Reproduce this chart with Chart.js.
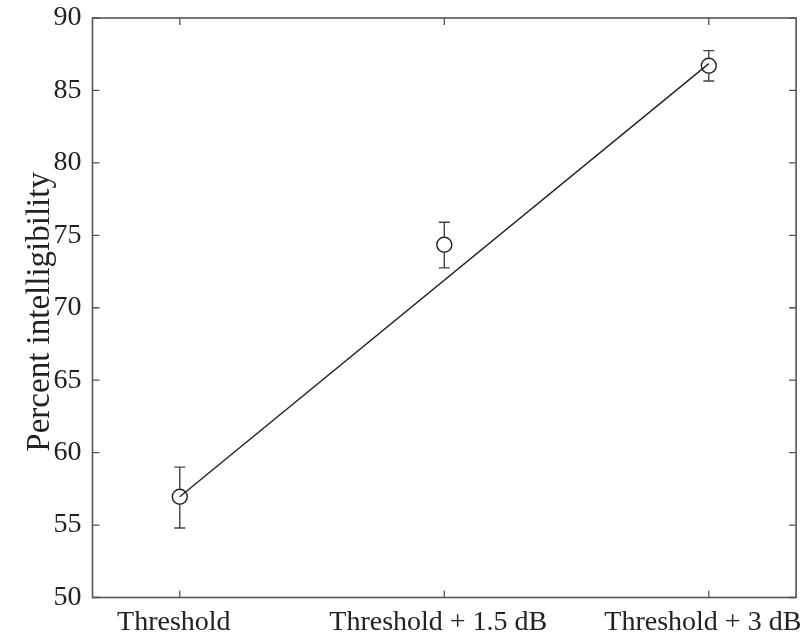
<!DOCTYPE html>
<html>
<head>
<meta charset="utf-8">
<script src="https://cdn.jsdelivr.net/npm/chart.js@4/dist/chart.umd.min.js"></script>
<style>
  html, body { margin: 0; padding: 0; background: #ffffff; }
  #wrap { width: 805px; height: 639px; }
  canvas { display: block; }
</style>
</head>
<body>
<div id="wrap"><canvas id="c" width="805" height="639"></canvas></div>
<script>
// ---- data ----
const categories = ['Threshold', 'Threshold + 1.5 dB', 'Threshold + 3 dB'];
const meanValues = [56.95, 74.35, 86.7];
const errUpper   = [59.0, 75.9, 87.75];
const errLower   = [54.8, 72.75, 85.65];
const fitLineEnds = [56.95, 86.85];          // fitted line at first and last category
const yTickValues = [50, 55, 60, 65, 70, 75, 80, 85, 90];
const yTitle = 'Percent intelligibility';

const INK = '#222222';
const FRAME = '#555555';
const SERIF = '"Liberation Serif", "Times New Roman", serif';

const meanPoints = meanValues.map((v, i) => ({ x: i, y: v }));
const fitPoints = [{ x: 0, y: fitLineEnds[0] }, { x: categories.length - 1, y: fitLineEnds[1] }];

const framePlugin = {
  id: 'frameTicksErr',
  afterDatasetsDraw(chart) {
    const { ctx, chartArea: a, scales } = chart;
    const xs = scales.x, ys = scales.y;
    ctx.save();
    // error bars
    ctx.strokeStyle = '#444444';
    ctx.lineWidth = 1.4;
    const cap = 5.5;
    for (let i = 0; i < meanValues.length; i++) {
      const px = xs.getPixelForValue(i);
      const top = ys.getPixelForValue(errUpper[i]);
      const bot = ys.getPixelForValue(errLower[i]);
      const c = ys.getPixelForValue(meanValues[i]);
      const r = 7.5;
      ctx.beginPath();
      ctx.moveTo(px, top); ctx.lineTo(px, c - r);
      ctx.moveTo(px, c + r); ctx.lineTo(px, bot);
      ctx.moveTo(px - cap, top); ctx.lineTo(px + cap, top);
      ctx.moveTo(px - cap, bot); ctx.lineTo(px + cap, bot);
      ctx.stroke();
    }
    // frame
    ctx.strokeStyle = FRAME;
    ctx.lineWidth = 1.6;
    ctx.strokeRect(a.left, a.top, a.right - a.left, a.bottom - a.top);
    // inward ticks
    const tl = 7;
    ctx.lineWidth = 1.3;
    ctx.beginPath();
    yTickValues.forEach(v => {
      const py = ys.getPixelForValue(v);
      ctx.moveTo(a.left, py); ctx.lineTo(a.left + tl, py);
      ctx.moveTo(a.right, py); ctx.lineTo(a.right - tl, py);
    });
    categories.forEach((_, i) => {
      const px = xs.getPixelForValue(i);
      ctx.moveTo(px, a.bottom); ctx.lineTo(px, a.bottom - tl);
      ctx.moveTo(px, a.top); ctx.lineTo(px, a.top + tl);
    });
    ctx.stroke();
    ctx.restore();
  }
};

new Chart(document.getElementById('c'), {
  type: 'scatter',
  data: {
    datasets: [
      {
        label: 'fit',
        data: fitPoints,
        showLine: true,
        borderColor: INK,
        borderWidth: 1.4,
        pointRadius: 0,
        fill: false
      },
      {
        label: 'mean',
        data: meanPoints,
        showLine: false,
        pointStyle: 'circle',
        pointRadius: 7.5,
        pointBorderWidth: 1.4,
        pointBorderColor: INK,
        pointBackgroundColor: 'rgba(0,0,0,0)'
      }
    ]
  },
  options: {
    responsive: false,
    devicePixelRatio: 1,
    animation: false,
    layout: { padding: { top: 18, right: 6, left: 0, bottom: 0 } },
    plugins: { legend: { display: false }, tooltip: { enabled: false } },
    scales: {
      x: {
        type: 'linear',
        min: -0.33,
        max: 2.33,
        grid: { display: false, drawTicks: false },
        border: { display: false },
        afterBuildTicks: (s) => { s.ticks = categories.map((_, i) => ({ value: i })); },
        afterFit: (s) => { s.height = 41.5; s.paddingLeft = 0; s.paddingRight = 0; },
        ticks: {
          autoSkip: false,
          maxRotation: 0,
          padding: 8,
          labelOffset: -6,
          color: INK,
          font: { family: SERIF, size: 28 },
          callback: (v) => categories[v] !== undefined ? categories[v] : ''
        }
      },
      y: {
        min: 50,
        max: 90,
        grid: { display: false, drawTicks: false },
        border: { display: false },
        afterBuildTicks: (s) => { s.ticks = yTickValues.map(v => ({ value: v })); },
        afterFit: (s) => { s.width = 92.5; s.paddingTop = 0; s.paddingBottom = 0; },
        ticks: {
          padding: 11,
          color: INK,
          font: { family: SERIF, size: 28 }
        },
        title: {
          display: true,
          text: yTitle + ' ',
          color: INK,
          font: { family: SERIF, size: 33 },
          padding: { top: 21, bottom: 0 }
        }
      }
    }
  },
  plugins: [framePlugin]
});
</script>
</body>
</html>
